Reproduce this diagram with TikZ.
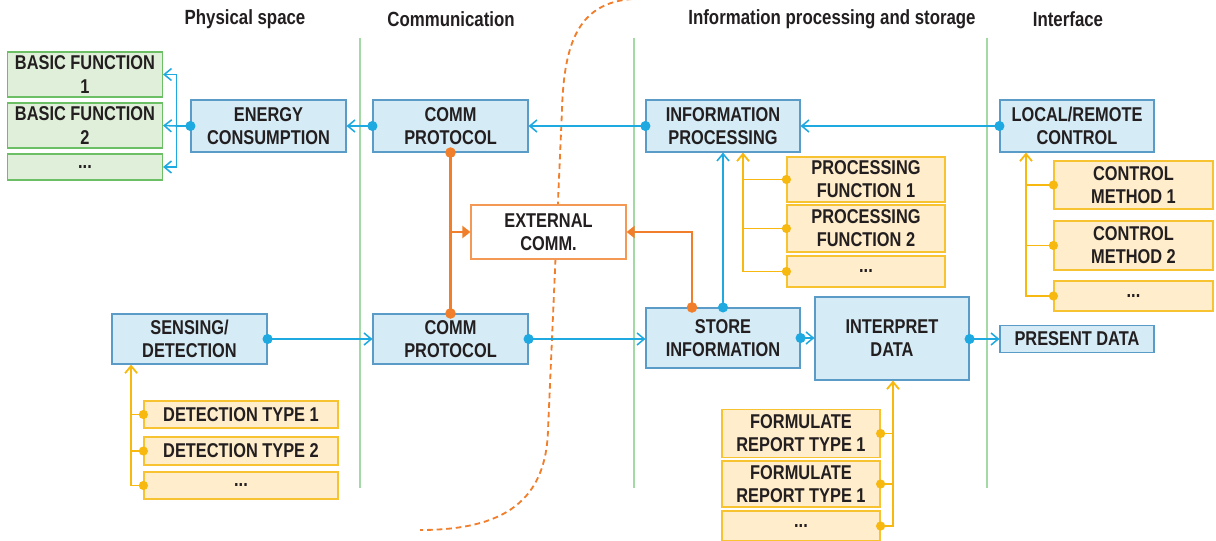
\documentclass[tikz,border=0pt]{standalone}
\usepackage{fontspec}
\setmainfont{Liberation Sans}[FakeStretch=0.82]
\usetikzlibrary{arrows.meta,positioning}
\definecolor{ink}{HTML}{231F20}
\definecolor{boxblue}{HTML}{5B9BC8}
\definecolor{fillblue}{HTML}{D5EBF6}
\definecolor{boxgreen}{HTML}{6CBF64}
\definecolor{fillgreen}{HTML}{E0EFD9}
\definecolor{boxyellow}{HTML}{F8C330}
\definecolor{fillyellow}{HTML}{FFEDCB}
\definecolor{lineblue}{HTML}{1EA9E1}
\definecolor{lineyellow}{HTML}{F7B80F}
\definecolor{lineorange}{HTML}{F07E2A}
\definecolor{divgreen}{HTML}{A3D9A5}
\newcommand\boxfont{\bfseries\fontsize{14.2}{16.4}\selectfont}
\newcommand\hdrfont{\bfseries\fontsize{14.6}{16.4}\selectfont}
\tikzset{
  box/.style={draw, align=center, inner sep=1pt, font=\boxfont, text=ink, line width=0.8pt},
  bluebox/.style={box, draw=boxblue, fill=fillblue, minimum width=3.85cm, minimum height=1.3cm},
  greenbox/.style={box, draw=boxgreen, fill=fillgreen, minimum width=3.875cm, minimum height=1.125cm},
  yellowbox/.style={box, draw=boxyellow, fill=fillyellow, minimum width=3.95cm},
  extbox/.style={box, draw=lineorange!80, fill=white, minimum width=3.875cm, minimum height=1.35cm},
  head/.style={font=\hdrfont, text=ink},
  divider/.style={draw=divgreen, line width=1.1pt},
  bluelink/.style={draw=lineblue, line width=1.1pt},
  bluedot/.style={bluelink, arrows={Circle[length=2.5mm]-}, shorten <=-1.25mm},
  bluearrow/.style={bluelink, arrows={-Straight Barb[length=1.8mm,width=3mm]}},
  bluedotarrow/.style={bluelink, arrows={Circle[length=2.5mm]-Straight Barb[length=1.8mm,width=3mm]}, shorten <=-1.25mm},
  yellowlink/.style={draw=lineyellow, line width=1.3pt},
  yellowarrow/.style={yellowlink, arrows={-Straight Barb[length=1.8mm,width=3mm]}},
  yellowdot/.style={fill=lineyellow},
  orangelink/.style={draw=lineorange, line width=2.1pt},
  orangedots/.style={orangelink, arrows={Circle[length=2.6mm]-Circle[length=2.6mm]}, shorten <=-1.3mm, shorten >=-1.3mm},
  orangearrow/.style={orangelink, arrows={-Triangle[length=2mm,width=3mm]}},
  orangedotarrow/.style={orangelink, arrows={Circle[length=2.6mm]-Triangle[length=2mm,width=3mm]}, shorten <=-1.3mm},
  border/.style={draw=lineorange, line width=1.3pt, dash pattern=on 4pt off 2.8pt}
}
\begin{document}
\begin{tikzpicture}[x=0.025cm, y=-0.025cm]
\useasboundingbox (0,0) rectangle (1216,540);

\node[head] (hphys) at (245,19) {Physical space};
\node[head] (hcomm) at (451,19) {Communication};
\node[head] (hinfo) at (832,19) {Information processing and storage};
\node[head] (hintf) at (1068,19) {Interface};

\draw[divider] (360,38) -- (360,488);
\draw[divider] (634,38) -- (634,488);
\draw[divider] (987,38) -- (987,488);

\draw[border] (632,-1) .. controls (580,3) and (564,40) .. (562,110) -- (548,430)
  .. controls (546,500) and (505,530) .. (420,530);

\node[bluebox, minimum width=3.875cm] (energy) at (268.5,126) {ENERGY\\CONSUMPTION};
\node[bluebox, minimum width=3.875cm] (commtop) at (450.5,126) {COMM\\PROTOCOL};
\node[bluebox] (infoproc) at (723,126) {INFORMATION\\PROCESSING};
\node[bluebox] (localctrl) at (1077,126) {LOCAL/REMOTE\\CONTROL};
\node[bluebox, minimum width=3.875cm, minimum height=1.25cm] (sensing) at (189.5,339) {SENSING/\\DETECTION};
\node[bluebox, minimum width=3.875cm, minimum height=1.25cm] (commbot) at (450.5,339) {COMM\\PROTOCOL};
\node[bluebox, minimum height=1.5cm] (store) at (723,338) {STORE\\INFORMATION};
\node[bluebox, minimum height=2.075cm] (interp) at (892,338.5) {INTERPRET\\DATA};
\node[bluebox, minimum height=0.675cm] (present) at (1077,339) {PRESENT DATA};
\node[extbox] (extcomm) at (548.5,232) {EXTERNAL\\COMM.};

\node[greenbox] (basic1) at (85,74.5) {BASIC FUNCTION\\1};
\node[greenbox] (basic2) at (85,125.5) {BASIC FUNCTION\\2};
\node[greenbox, minimum height=0.65cm] (basic3) at (85,167) {...};

\node[yellowbox, minimum height=1.125cm] (proc1) at (866,179.5) {PROCESSING\\FUNCTION 1};
\node[yellowbox, minimum height=1.175cm] (proc2) at (866,228.5) {PROCESSING\\FUNCTION 2};
\node[yellowbox, minimum height=0.775cm] (proc3) at (866,271.5) {...};

\node[yellowbox, minimum width=3.975cm, minimum height=1.2cm] (method1) at (1133.5,185) {CONTROL\\METHOD 1};
\node[yellowbox, minimum width=3.975cm, minimum height=1.225cm] (method2) at (1133.5,245.5) {CONTROL\\METHOD 2};
\node[yellowbox, minimum width=3.975cm, minimum height=0.75cm] (method3) at (1133.5,296) {...};

\node[yellowbox, minimum width=4.85cm, minimum height=0.675cm] (detect1) at (241,414.5) {DETECTION TYPE 1};
\node[yellowbox, minimum width=4.85cm, minimum height=0.7cm] (detect2) at (241,451) {DETECTION TYPE 2};
\node[yellowbox, minimum width=4.85cm, minimum height=0.675cm] (detect3) at (241,485.5) {...};

\node[yellowbox, minimum height=1.2cm] (report1) at (801,433.5) {FORMULATE\\REPORT TYPE 1};
\node[yellowbox, minimum height=1.15cm] (report2) at (801,484) {FORMULATE\\REPORT TYPE 1};
\node[yellowbox, minimum height=0.75cm] (report3) at (801,526) {...};

\coordinate (ebus) at ([xshift=-3.5mm]energy.west);
\draw[bluedot] (energy.west) -- (ebus);
\draw[bluearrow] (ebus) |- (basic1.east);
\draw[bluearrow] (ebus) -- (basic2.east);
\draw[bluearrow] (ebus) |- (basic3.east);
\draw[bluedotarrow] (commtop.west) -- (energy.east);
\draw[bluedotarrow] (infoproc.west) -- (commtop.east);
\draw[bluedotarrow] (localctrl.west) -- (infoproc.east);
\draw[bluedotarrow] (store.north) -- (infoproc.south);
\draw[bluedotarrow] (sensing.east) -- (commbot.west);
\draw[bluedotarrow] (commbot.east) -- (commbot.east -| store.west);
\draw[bluedotarrow] (store.east) -- (store.east -| interp.west);
\draw[bluedotarrow] (interp.east |- present.west) -- (present.west);

\draw[orangedots] (commtop.south) -- (commbot.north);
\draw[orangearrow] (commtop.south |- extcomm.west) -- (extcomm.west);
\draw[orangedotarrow] ([xshift=-7.75mm]store.north) |- (extcomm.east);

% yellow feeds into the blue blocks
\coordinate (procbus) at ([xshift=5mm]infoproc.south);
\draw[yellowarrow] (proc3.west) -| (procbus);
\draw[yellowlink] (proc1.west) -- (proc1.west -| procbus);
\draw[yellowlink] (proc2.west) -- (proc2.west -| procbus);
\foreach \n in {proc1,proc2,proc3}
  \fill[yellowdot] (\n.west) circle (1.15mm);

\coordinate (methodbus) at ([xshift=-12.75mm]localctrl.south);
\draw[yellowarrow] (method3.west) -| (methodbus);
\draw[yellowlink] (method1.west) -- (method1.west -| methodbus);
\draw[yellowlink] (method2.west) -- (method2.west -| methodbus);
\foreach \n in {method1,method2,method3}
  \fill[yellowdot] (\n.west) circle (1.15mm);

\coordinate (detectbus) at ([xshift=-14.6mm]sensing.south);
\draw[yellowarrow] (detect3.west) -| (detectbus);
\draw[yellowlink] (detect1.west) -- (detect1.west -| detectbus);
\draw[yellowlink] (detect2.west) -- (detect2.west -| detectbus);
\foreach \n in {detect1,detect2,detect3}
  \fill[yellowdot] (\n.west) circle (1.15mm);

\coordinate (reportbus) at ([xshift=0.25mm]interp.south);
\draw[yellowarrow] (report3.east) -| (reportbus);
\draw[yellowlink] (report1.east) -- (report1.east -| reportbus);
\draw[yellowlink] (report2.east) -- (report2.east -| reportbus);
\foreach \n in {report1,report2,report3}
  \fill[yellowdot] (\n.east) circle (1.15mm);
\end{tikzpicture}
\end{document}
